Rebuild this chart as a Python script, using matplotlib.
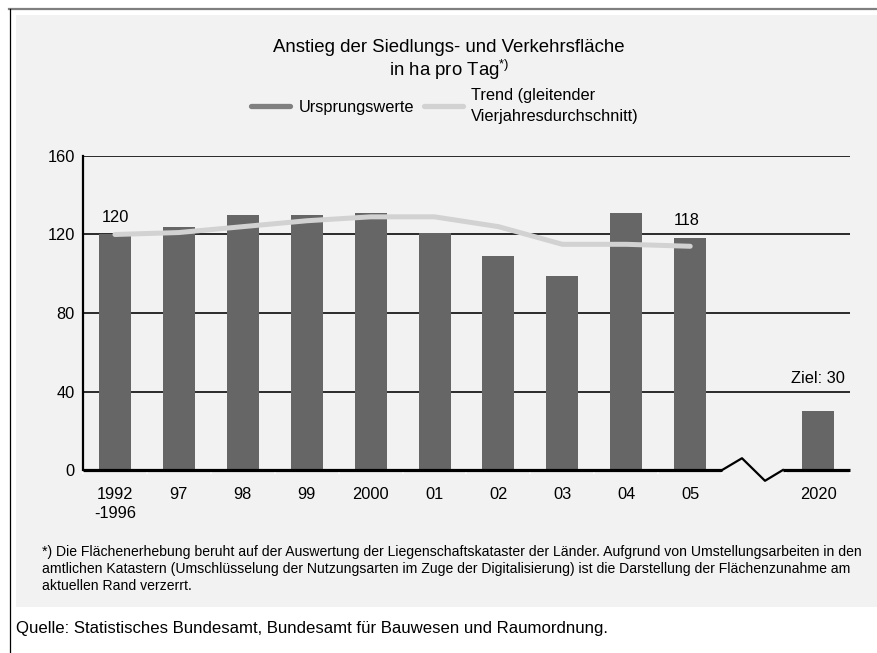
import matplotlib
matplotlib.use("Agg")
import matplotlib.pyplot as plt
from matplotlib.lines import Line2D
from matplotlib.patches import Rectangle

plt.rcParams['font.family'] = ['Liberation Sans', 'DejaVu Sans']
plt.rcParams['mathtext.default'] = 'regular'

# ---- data ----
categories = ["1992\n-1996", "97", "98", "99", "2000", "01", "02", "03", "04", "05", "2020"]
bar_pos = [0, 1, 2, 3, 4, 5, 6, 7, 8, 9, 11]
ursprungswerte = [120, 124, 130, 130, 131, 121, 109, 99, 131, 118, 30]
trend_pos = [0, 1, 2, 3, 4, 5, 6, 7, 8, 9]
trend = [120, 121, 124, 127, 129, 129, 124, 115, 115, 114]
yticks = [0, 40, 80, 120, 160]
break_x = [9.5, 9.81, 10.17, 10.45]
break_y = [0, 6, -5.5, 0]

W, H = 877, 653
fig = plt.figure(figsize=(W / 100, H / 100), dpi=100)
fig.patch.set_facecolor('white')

def fx(x):
    return x / W

def fy(y):
    return 1 - y / H

# frame and gray panel
fig.patches.append(Rectangle((fx(16), fy(607)), fx(W) - fx(16), fy(15) - fy(607),
                             transform=fig.transFigure, facecolor='#f2f2f2',
                             edgecolor='none', zorder=-5))
fig.lines.append(Line2D([fx(9), 1], [fy(9), fy(9)], transform=fig.transFigure,
                        color='#7f7f7f', lw=1.6, zorder=-4))
fig.lines.append(Line2D([fx(9.5), fx(9.5)], [fy(9), 0], transform=fig.transFigure,
                        color='black', lw=0.9, zorder=-4))

ax = fig.add_axes([fx(83), fy(470), fx(850) - fx(83), fy(156) - fy(470)])
ax.set_zorder(2)
ax.set_facecolor('none')
ax.set_xlim(-0.5, 11.5)
ax.set_ylim(0, 160)

for s in ['top', 'right', 'bottom']:
    ax.spines[s].set_visible(False)
ax.spines['left'].set_linewidth(1.6)
ax.spines['left'].set_color('black')

# grid lines
for v in yticks[1:]:
    ax.axhline(v, color='#1a1a1a', lw=1.3, zorder=1)

ax.bar(bar_pos, ursprungswerte, width=0.5, color='#666666', zorder=2)
ax.plot(trend_pos, trend, color='#d2d2d2', lw=3.6, solid_capstyle='round',
        solid_joinstyle='round', zorder=3)

# baseline with break
ax.plot([-0.5, break_x[0]], [0, 0], color='black', lw=2.3, zorder=4,
        clip_on=False, solid_capstyle='butt')
ax.plot([break_x[-1], 11.5], [0, 0], color='black', lw=2.3, zorder=4,
        clip_on=False, solid_capstyle='butt')
ax.plot(break_x, break_y, color='black', lw=1.6, zorder=4, clip_on=False)

ax.set_yticks(yticks)
ax.set_yticklabels([str(v) for v in yticks], fontsize=11.8)
ax.tick_params(axis='y', length=0, pad=6)
ax.set_xticks(bar_pos)
ax.set_xticklabels(categories, fontsize=11.8, linespacing=1.35)
ax.tick_params(axis='x', length=0, pad=12)
ax.set_xticks([p - 0.5 for p in range(0, 13)], minor=True)
ax.tick_params(axis='x', which='minor', length=3, width=1.5, color='white')

# value labels
ax.text(bar_pos[0], ursprungswerte[0] + 8.5, "120", ha='center', va='center', fontsize=11.8)
ax.text(bar_pos[9] - 0.06, ursprungswerte[9] + 9, "118", ha='center', va='center', fontsize=11.8)
ax.text(bar_pos[10], ursprungswerte[10] + 16.5, "Ziel: 30", ha='center', va='center', fontsize=11.8)

# title
fig.text(fx(449), fy(47), "Anstieg der Siedlungs- und Verkehrsfläche", ha='center',
         va='center', fontsize=13.4)
fig.text(fx(449), fy(70), "in ha pro Tag$^{*)}$", ha='center', va='center', fontsize=13.4)

# legend
handles = [Line2D([], [], color='#808080', lw=3.8, solid_capstyle='round'),
           Line2D([], [], color='#d2d2d2', lw=3.8, solid_capstyle='round')]
leg = fig.legend(handles, ["Ursprungswerte", "Trend (gleitender\nVierjahresdurchschnitt)"],
                 loc='center', bbox_to_anchor=(fx(445), fy(106)), ncol=2, frameon=False,
                 fontsize=11.8, handlelength=2.4, handletextpad=0.5, columnspacing=0.6,
                 borderpad=0, borderaxespad=0)
for t in leg.get_texts():
    t.set_linespacing(1.5)

# footnote
foot_lines = [
    "*) Die Flächenerhebung beruht auf der Auswertung der Liegenschaftskataster der Länder. "
    "Aufgrund von Umstellungsarbeiten in den",
    "amtlichen Katastern (Umschlüsselung der Nutzungsarten im Zuge der Digitalisierung) "
    "ist die Darstellung der Flächenzunahme am",
    "aktuellen Rand verzerrt.",
]
for i, line in enumerate(foot_lines):
    fig.text(fx(42), fy(552 + 17 * i), line, ha='left', va='center', fontsize=10.1)
fig.text(fx(16), fy(629), "Quelle: Statistisches Bundesamt, Bundesamt für Bauwesen und Raumordnung.",
         ha='left', va='center', fontsize=12.1)

fig.savefig("out.png", dpi=100, facecolor='white')
